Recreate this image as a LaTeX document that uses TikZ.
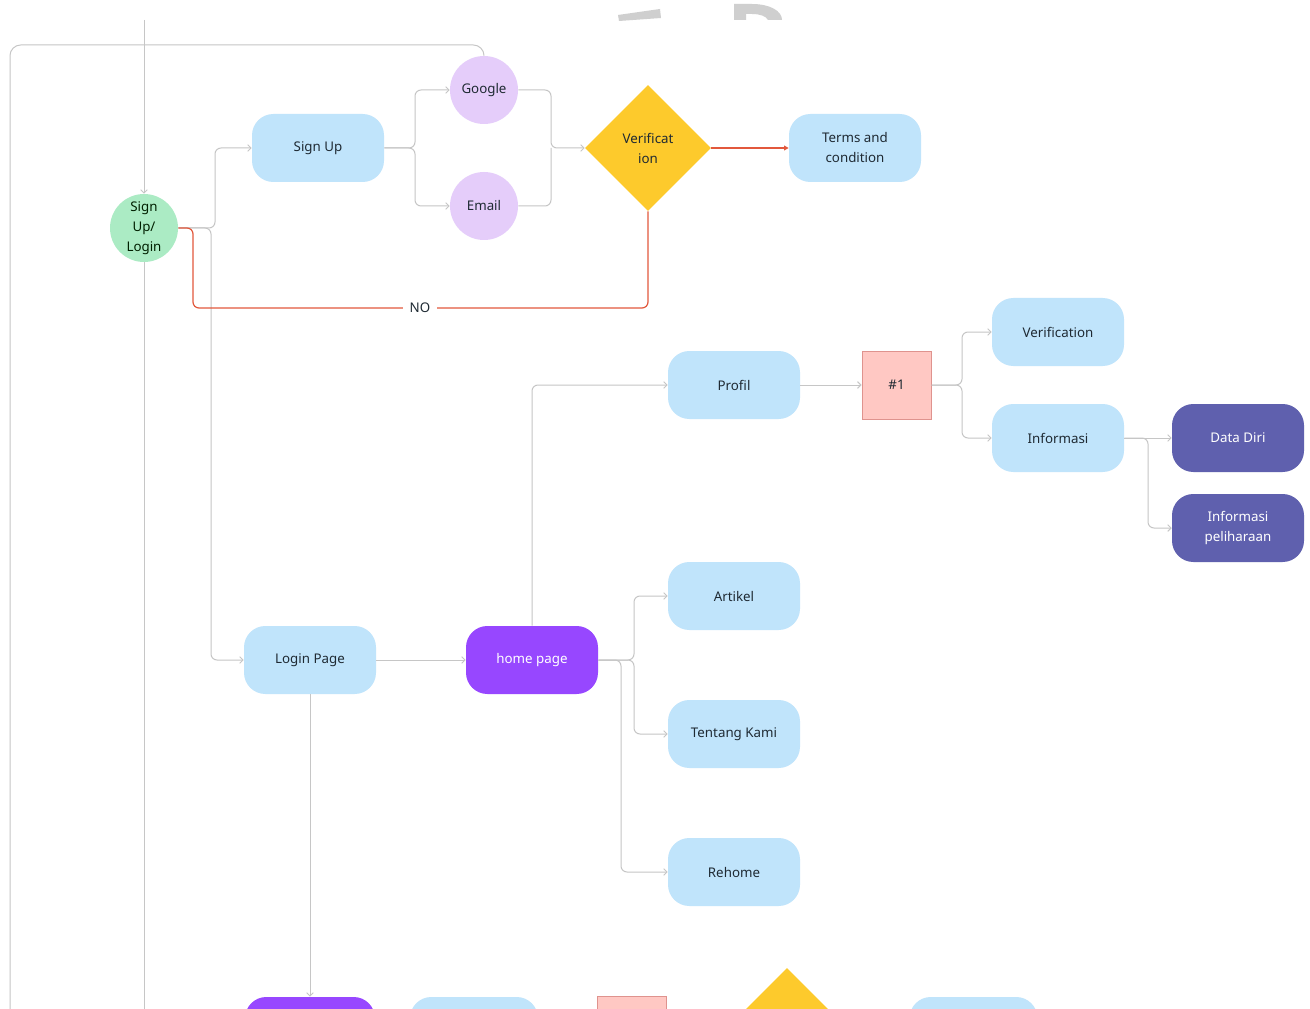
\documentclass[tikz,border=0pt]{standalone}
\usepackage{fontspec}
\setmainfont{Noto Sans}
\usetikzlibrary{shapes.geometric,arrows.meta}
\definecolor{lblue}{HTML}{C0E4FB}
\definecolor{lgreen}{HTML}{ABEBC4}
\definecolor{lav}{HTML}{E5CDFA}
\definecolor{yel}{HTML}{FDCA2C}
\definecolor{pinkf}{HTML}{FFC8C3}
\definecolor{pinkd}{HTML}{DF938E}
\definecolor{indi}{HTML}{5F60AE}
\definecolor{purp}{HTML}{9747FF}
\definecolor{lgray}{HTML}{C6C6C6}
\definecolor{redl}{HTML}{E2583C}
\definecolor{txt}{HTML}{1F2A33}
\definecolor{wm}{HTML}{CFCFCF}
\tikzset{
  nfont/.style={font=\fontsize{10}{15}\selectfont},
  box/.style={rounded corners=16pt, minimum width=99pt, minimum height=51pt, inner sep=0pt, align=center, nfont, text=txt},
  lb/.style={box, fill=lblue},
  pb/.style={box, fill=purp, text=white},
  ib/.style={box, fill=indi, text=white},
  circ/.style={circle, minimum size=51pt, inner sep=0pt, align=center, nfont},
  conn/.style={draw=lgray, line width=0.75pt, rounded corners=4.5pt},
  arr/.style={conn, -{Straight Barb[length=2.5pt,width=5pt]}},
  redc/.style={draw=redl, line width=0.9pt, rounded corners=4.5pt},
}
\begin{document}
\begin{tikzpicture}[x=0.75pt,y=-0.75pt]
\clip (0,0) rectangle (1310,1009);
\fill[white] (0,0) rectangle (1310,1009);
% watermark fragments
\fill[wm] (618,15) -- (660,9) -- (661,18) -- (619,21) -- cycle;
\fill[wm] (734,4) -- (752,4) .. controls (770,4) and (782,11) .. (782,20) -- (768,20) .. controls (766,16) and (760,14) .. (752,14) -- (746,14) -- (746,20) -- (734,20) -- cycle;

% nodes
\node[circ, fill=lgreen, text=black!80!green!60!black] (slog) at (144,228) {Sign\\Up/\\Login};
\node[lb] (signup) at (318,148) {Sign Up};
\node[circ, fill=lav, text=txt] (google) at (484,90) {Google};
\node[circ, fill=lav, text=txt] (email) at (484,206) {Email};
\node[diamond, aspect=1, minimum width=94.5pt, minimum height=94.5pt, inner sep=0pt, fill=yel, align=center, nfont, text=txt] (verif) at (648,148) {Verificat\\ion};
\node[lb] (terms) at (855,148) {Terms and\\condition};
\node[lb] (profil) at (734,385) {Profil};
\node[rectangle, minimum width=51.75pt, minimum height=51pt, fill=pinkf, draw=pinkd, line width=0.75pt, nfont, text=txt] (p1) at (896.5,385) {\#1};
\node[lb] (verif2) at (1058,332) {Verification};
\node[lb] (info) at (1058,438) {Informasi};
\node[ib] (dd) at (1238,438) {Data Diri};
\node[ib] (ip) at (1238,528) {Informasi\\peliharaan};
\node[lb] (artikel) at (734,596) {Artikel};
\node[lb] (login) at (310,660) {Login Page};
\node[pb] (home) at (532,660) {home page};
\node[lb] (tentang) at (734,734) {Tentang Kami};
\node[lb] (rehome) at (734,872) {Rehome};
% bottom row (cut off)
\node[pb, minimum width=97.5pt] (bp) at (310,1031) {};
\node[lb, minimum width=96pt] (bb1) at (474,1031) {};
\node[rectangle, minimum width=51.75pt, minimum height=51pt, fill=pinkf, draw=pinkd, line width=0.75pt] (bsq) at (631.5,1030.5) {};
\node[diamond, aspect=1, minimum width=94.5pt, minimum height=94.5pt, inner sep=0pt, fill=yel] (bd) at (787,1031) {};
\node[lb, minimum width=96pt] (bb2) at (973.5,1031) {};

% coordinates for free ends
\coordinate (topin) at (144,20);
\coordinate (botout) at (144,1012);
\coordinate (loopend) at (10,1012);

% connectors
\draw[arr] (topin) -- (slog.north);
\draw[conn] (slog.south) -- (botout);
\draw[conn, rounded corners=8pt] (google.north) -- (484,45) -- (10,45) -- (loopend);
\draw[arr] (slog.east) -- (211,228) |- (login.west);
\draw[arr] (slog.east) -- (215,228) |- (signup.west);
\draw[arr] (signup.east) -- (415,148) |- (google.west);
\draw[arr] (signup.east) -- (415,148) |- (email.west);
\draw[arr] (google.east) -| (551,148) -- (verif.west);
\draw[conn] (email.east) -| (551,148);
\draw[redc, -{Triangle[length=3.5pt,width=3.5pt]}] (verif.east) -- (terms.west);
\draw[redc] (slog.east) -- (193,228) |- (648,308) -- (verif.south);
\node[fill=white, inner xsep=5pt, inner ysep=1pt, nfont, text=txt] (no) at (420,308) {NO};
\draw[arr] (home.north) |- (profil.west);
\draw[arr] (profil.east) -- (p1.west);
\draw[arr] (p1.east) -- (962,385) |- (verif2.west);
\draw[arr] (p1.east) -- (962,385) |- (info.west);
\draw[arr] (info.east) -- (dd.west);
\draw[arr] (info.east) -- (1148,438) |- (ip.west);
\draw[arr] (login.east) -- (home.west);
\draw[arr] (home.east) -- (634,660) |- (artikel.west);
\draw[arr] (home.east) -- (634,660) |- (tentang.west);
\draw[arr] (home.east) -- (621,660) |- (rehome.west);
\draw[arr] (login.south) -- (bp.north);
\end{tikzpicture}
\end{document}
